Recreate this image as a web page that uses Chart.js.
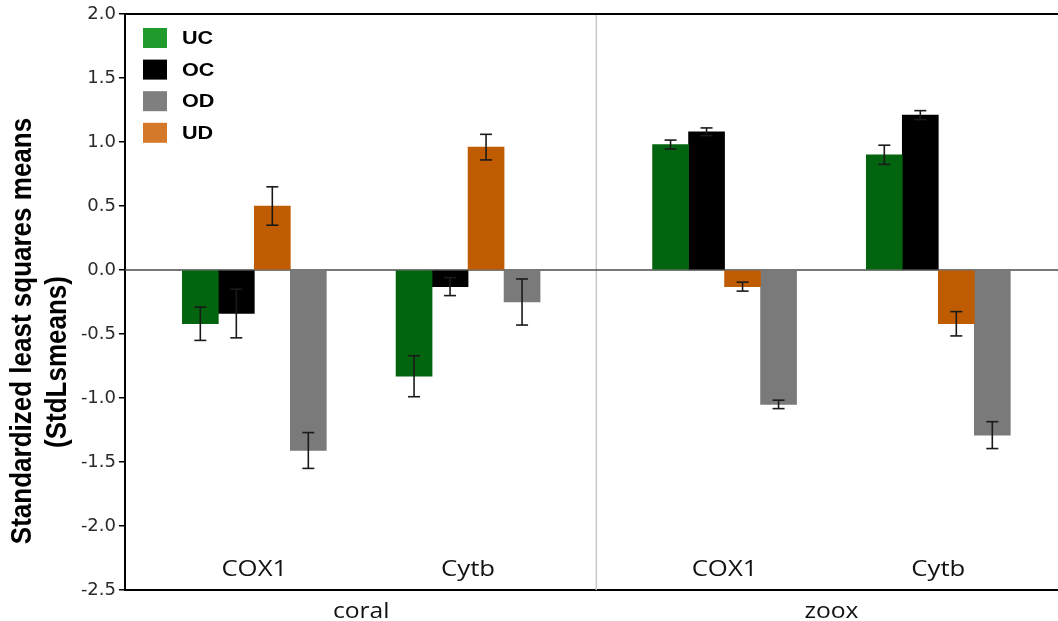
<!DOCTYPE html>
<html lang="en">
<head>
<meta charset="UTF-8">
<title>StdLsmeans by gene and source</title>
<script src="https://cdn.jsdelivr.net/npm/chart.js"></script>
<style>
  html, body { margin: 0; padding: 0; background: #fff; }
  #wrap { width: 1058px; height: 621px; position: relative; }
</style>
</head>
<body>
<div id="wrap"><canvas id="lsChart"></canvas></div>
<script>
// genes nested within source, left to right
const genes = ["COX1", "Cytb", "COX1", "Cytb"];
const sources = ["coral", "zoox"];
const yTicks = [-2.5, -2.0, -1.5, -1.0, -0.5, 0.0, 0.5, 1.0, 1.5, 2.0];

// treatment means and their standard errors, one per gene/source
const ucMeans = [-0.42, -0.83, 0.98, 0.90];
const ucErr   = [0.13, 0.16, 0.035, 0.075];
const ocMeans = [-0.34, -0.13, 1.08, 1.21];
const ocErr   = [0.19, 0.07, 0.03, 0.035];
const udMeans = [0.50, 0.96, -0.13, -0.42];
const udErr   = [0.15, 0.10, 0.035, 0.095];
const odMeans = [-1.41, -0.25, -1.05, -1.29];
const odErr   = [0.14, 0.18, 0.033, 0.105];

const legendOrder = ["UC", "OC", "OD", "UD"];
const swatch = { UC: "#1f9a2b", OC: "#000000", OD: "#7f7f7f", UD: "#d4792a" };

// each source is a panel of 2 genes; panels are pushed apart a little
const genesPerSource = 2;
const panelGap = 0.2;
const slot = i => (i % genesPerSource) + Math.floor(i / genesPerSource) * (genesPerSource + panelGap);

function series(label, means, errs, color) {
    return {
        label: label,
        data: means.map((v, i) => ({ x: slot(i), y: v })),
        errors: errs,
        backgroundColor: color,
        borderWidth: 0,
        barThickness: 36
    };
}

// text stretched horizontally around its anchor
function wideText(ctx, text, x, y, sx, align) {
    ctx.save();
    ctx.translate(x, y);
    ctx.scale(sx, 1);
    ctx.textAlign = align;
    ctx.fillText(text, 0, 0);
    ctx.restore();
}

function hline(ctx, x1, x2, y) {
    ctx.beginPath(); ctx.moveTo(x1, y); ctx.lineTo(x2, y); ctx.stroke();
}
function vline(ctx, x, y1, y2) {
    ctx.beginPath(); ctx.moveTo(x, y1); ctx.lineTo(x, y2); ctx.stroke();
}

const decorations = {
    id: "decorations",
    beforeDatasetsDraw(chart) {
        const { ctx, chartArea: a, scales: { x, y } } = chart;
        ctx.save();
        // separator halfway between the last coral gene and the first zoox gene
        const split = (slot(genesPerSource - 1) + slot(genesPerSource)) / 2;
        ctx.strokeStyle = "#c8c8c8";
        ctx.lineWidth = 1.5;
        vline(ctx, x.getPixelForValue(split), a.top, a.bottom);
        // zero reference
        ctx.strokeStyle = "#4a4a4a";
        ctx.lineWidth = 1.5;
        hline(ctx, a.left, a.right, y.getPixelForValue(0));
        ctx.restore();
    },
    afterDatasetsDraw(chart) {
        const { ctx, scales: { y } } = chart;
        ctx.save();
        ctx.strokeStyle = "#1a1a1a";
        ctx.lineWidth = 1.6;
        chart.data.datasets.forEach((ds, di) => {
            chart.getDatasetMeta(di).data.forEach((bar, i) => {
                const v = ds.data[i].y, e = ds.errors[i];
                const top = y.getPixelForValue(v + e);
                const bot = y.getPixelForValue(v - e);
                vline(ctx, bar.x, top, bot);
                hline(ctx, bar.x - 6, bar.x + 6, top);
                hline(ctx, bar.x - 6, bar.x + 6, bot);
            });
        });
        ctx.restore();
    },
    afterDraw(chart) {
        const { ctx, chartArea: a, scales: { x } } = chart;
        ctx.save();

        // frame top edge
        ctx.strokeStyle = "#000";
        ctx.lineWidth = 2;
        hline(ctx, a.left - 1, a.right, a.top);

        // gene labels inside the plot, source labels under the axis
        ctx.fillStyle = "#111";
        ctx.textBaseline = "alphabetic";
        ctx.font = "22px 'Open Sans'";
        genes.forEach((g, i) => wideText(ctx, g, x.getPixelForValue(slot(i)), a.bottom - 14, 1.17, "center"));
        sources.forEach((s, k) => {
            const mid = (slot(k * genesPerSource) + slot(k * genesPerSource + genesPerSource - 1)) / 2;
            wideText(ctx, s, x.getPixelForValue(mid), a.bottom + 28, 1.12, "center");
        });

        // legend, top left of the plot
        ctx.font = "bold 18px 'Liberation Sans'";
        ctx.textBaseline = "middle";
        legendOrder.forEach((name, k) => {
            const cy = 38 + k * 31.6;
            ctx.fillStyle = swatch[name];
            ctx.fillRect(143, cy - 10, 24, 20);
            ctx.fillStyle = "#000";
            wideText(ctx, name, 182, cy + 1, 1.2, "left");
        });

        // two-line y axis title
        ctx.fillStyle = "#000";
        ctx.font = "bold 26px 'Liberation Sans'";
        ctx.textBaseline = "alphabetic";
        [["Standardized least squares means", 31, 331], ["(StdLsmeans)", 66, 362]].forEach(([t, bx, cy]) => {
            ctx.save();
            ctx.translate(bx, cy);
            ctx.rotate(-Math.PI / 2);
            ctx.scale(1, 1.15);
            ctx.textAlign = "center";
            ctx.fillText(t, 0, 0);
            ctx.restore();
        });
        ctx.restore();
    }
};

new Chart(document.getElementById("lsChart"), {
    type: "bar",
    data: {
        datasets: [
            series("UC", ucMeans, ucErr, "#03640f"),
            series("OC", ocMeans, ocErr, "#000000"),
            series("UD", udMeans, udErr, "#bf5b00"),
            series("OD", odMeans, odErr, "#7a7a7a")
        ]
    },
    options: {
        responsive: true,
        maintainAspectRatio: false,
        animation: false,
        layout: { padding: { top: 14, left: 0, right: 0, bottom: 0 } },
        plugins: {
            legend: { display: false },
            tooltip: { enabled: false }
        },
        scales: {
            x: {
                type: "linear",
                min: -0.605,
                max: 3.76,
                offset: false,
                grid: { display: false },
                ticks: { display: false },
                border: { display: true, color: "#000", width: 2 },
                afterFit(scale) { scale.height = 31; }
            },
            y: {
                min: -2.5,
                max: 2.0,
                afterBuildTicks(scale) { scale.ticks = yTicks.map(v => ({ value: v })); },
                ticks: {
                    callback: v => v.toFixed(1),
                    color: "#2a2a2a",
                    padding: 3,
                    font: { family: "'DejaVu Sans'", size: 18 }
                },
                grid: { drawOnChartArea: false, drawTicks: true, tickLength: 6, color: "#000", lineWidth: 1.5 },
                border: { display: true, color: "#000", width: 2 },
                afterFit(scale) { scale.width = 125; }
            }
        }
    },
    plugins: [decorations]
});
</script>
</body>
</html>
